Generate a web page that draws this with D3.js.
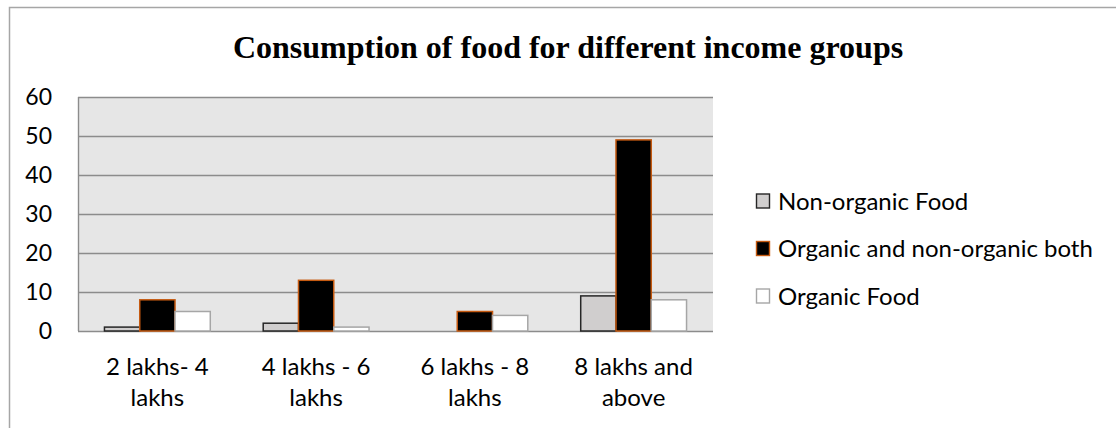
<!DOCTYPE html>
<html>
<head>
<meta charset="utf-8">
<script src="https://cdn.jsdelivr.net/npm/d3@7"></script>
<style>
  body { margin: 0; background: #fff; }
  svg text { font-family: Lato, 'Noto Sans', sans-serif; fill: #000; }
</style>
</head>
<body>
<svg id="chart" width="1116" height="428"></svg>
<script>
const categories = [['2 lakhs- 4', 'lakhs'], ['4 lakhs - 6', 'lakhs'], ['6 lakhs - 8', 'lakhs'], ['8 lakhs and', 'above']]
const seriesNames = ['Non-organic Food', 'Organic and non-organic both', 'Organic Food']
const nonOrganic = [1, 2, 0, 9]
const bothKinds = [8, 13, 5, 49]
const organic = [5, 1, 4, 8]
const yTicks = [0, 10, 20, 30, 40, 50, 60]

const fills = ['#d0cece', '#000000', '#ffffff']
const strokes = ['#262626', '#c55a11', '#a6a6a6']

const c = {
  width: 1116,
  height: 428,
  margin: { left: 78, right: 403, top: 97, bottom: 97 },
  fontSize: 24
}

const svg = d3.select('#chart')
const values = [nonOrganic, bothKinds, organic]
const data = categories.map((cat, i) => ({ i, cat, vals: values.map((v) => v[i]) }))

// frame edge (top and left visible)
svg.append('path')
  .attr('d', `M9.5,${ c.height } V7.5 H${ c.width }`)
  .attr('fill', 'none')
  .attr('stroke', '#a6a6a6')
  .attr('stroke-width', 1.5)

svg.append('text')
  .attr('x', 568)
  .attr('y', 58)
  .attr('text-anchor', 'middle')
  .style('font-family', "'Liberation Serif', 'Times New Roman', serif")
  .style('font-weight', 'bold')
  .style('font-size', '32px')
  .text('Consumption of food for different income groups')

const x0 = c.margin.left
const x1 = c.width - c.margin.right
const yBottom = c.height - c.margin.bottom

const xScale = d3.scaleBand(data.map((d) => d.i), [x0, x1])
const barW = xScale.bandwidth() / 4.5 // gap width 150%
const xInner = d3.scaleBand(d3.range(3), [0, barW * 3])
const yScale = d3.scaleLinear([0, 60], [yBottom, c.margin.top])

// plot area
svg.append('rect')
  .attr('x', x0)
  .attr('y', c.margin.top)
  .attr('width', x1 - x0)
  .attr('height', yBottom - c.margin.top)
  .attr('fill', '#e6e6e6')

// grid
svg.append('g')
  .selectAll('line')
  .data(yTicks)
  .join('line')
  .attr('x1', x0)
  .attr('x2', x1)
  .attr('y1', (d) => Math.round(yScale(d)) + 0.5)
  .attr('y2', (d) => Math.round(yScale(d)) + 0.5)
  .attr('stroke', '#8c8c8c')
  .attr('stroke-width', 1.4)

svg.append('line')
  .attr('x1', x0 + 0.5)
  .attr('x2', x0 + 0.5)
  .attr('y1', c.margin.top)
  .attr('y2', yBottom)
  .attr('stroke', '#8c8c8c')
  .attr('stroke-width', 1.4)

// Y Axis
const yAxis = d3.axisLeft(yScale).tickValues(yTicks).tickSize(0).tickPadding(26)
const yAxisEl = svg.append('g')
  .attr('transform', `translate(${ x0 },0)`)
  .call(yAxis)
yAxisEl.select('.domain').remove()
yAxisEl.selectAll('.tick text')
  .style('font-size', '23px')
  .style('font-family', 'Lato, sans-serif')

// bars
const groups = svg.append('g')
  .selectAll('g')
  .data(data)
  .join('g')
  .attr('transform', (d) => `translate(${ xScale(d.i) + (xScale.bandwidth() - barW * 3) / 2 },0)`)

groups.selectAll('rect')
  .data((d) => d.vals.map((v, k) => ({ v, k })))
  .join('rect')
  .filter((d) => d.v > 0)
  .attr('x', (d) => xInner(d.k))
  .attr('y', (d) => yScale(d.v))
  .attr('width', xInner.bandwidth())
  .attr('height', (d) => yBottom - yScale(d.v))
  .attr('fill', (d) => fills[d.k])
  .attr('stroke', (d) => strokes[d.k])
  .attr('stroke-width', 1.5)

// X Axis labels
svg.append('g')
  .selectAll('text')
  .data(data)
  .join('text')
  .attr('x', (d) => xScale(d.i) + xScale.bandwidth() / 2)
  .attr('y', yBottom + 44)
  .attr('text-anchor', 'middle')
  .style('font-size', `${ c.fontSize }px`)
  .selectAll('tspan')
  .data((d) => d.cat)
  .join('tspan')
  .attr('x', function () { return d3.select(this.parentNode).attr('x') })
  .attr('dy', (d, i) => (i === 0 ? 0 : 31))
  .text((d) => d)

// legend
const legend = svg.append('g')
  .selectAll('g')
  .data(seriesNames)
  .join('g')
  .attr('transform', (d, i) => `translate(756,${ 201 + i * 47.5 })`)

legend.append('rect')
  .attr('x', 0.5)
  .attr('y', -7)
  .attr('width', 13)
  .attr('height', 14)
  .attr('fill', (d, i) => fills[i])
  .attr('stroke', (d, i) => strokes[i])
  .attr('stroke-width', 1.4)

legend.append('text')
  .attr('x', 22)
  .attr('y', 0)
  .attr('dy', '0.36em')
  .style('font-size', `${ c.fontSize }px`)
  .text((d) => d)
</script>
</body>
</html>
